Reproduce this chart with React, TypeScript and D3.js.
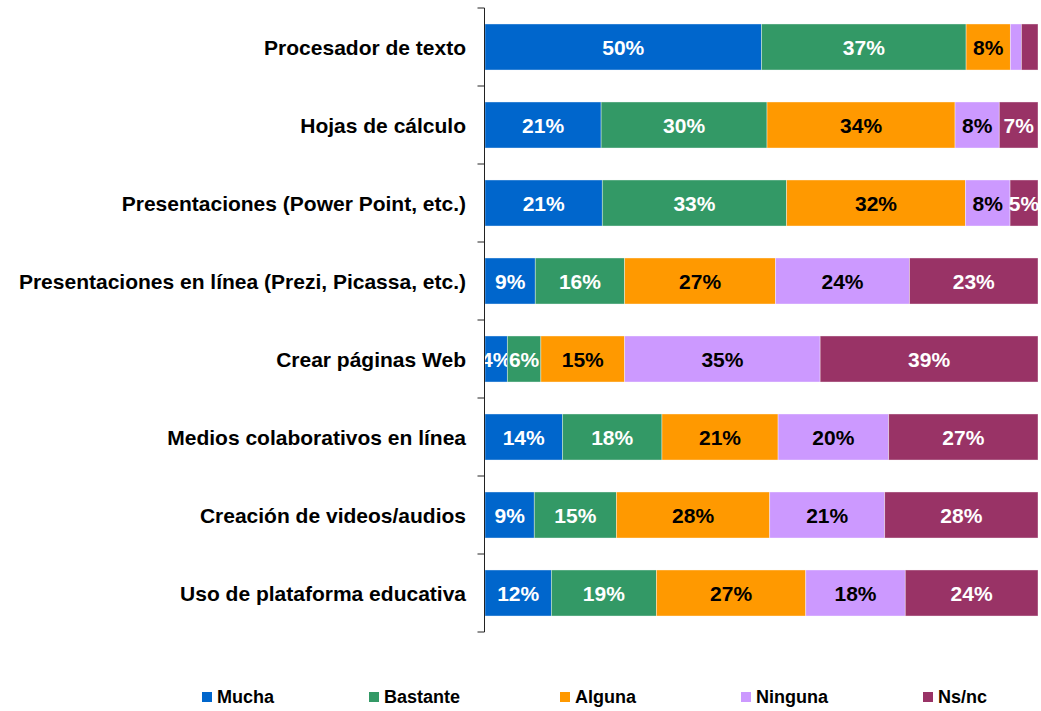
import React from "react";
import * as d3 from "d3";

const categories = [
  "Procesador de texto",
  "Hojas de cálculo",
  "Presentaciones (Power Point, etc.)",
  "Presentaciones en línea (Prezi, Picassa, etc.)",
  "Crear páginas Web",
  "Medios colaborativos en línea",
  "Creación de videos/audios",
  "Uso de plataforma educativa",
];
const seriesNames = ["Mucha", "Bastante", "Alguna", "Ninguna", "Ns/nc"];
const mucha = [50, 21, 21, 9, 4, 14, 9, 12];
const bastante = [37, 30, 33, 16, 6, 18, 15, 19];
const alguna = [8, 34, 32, 27, 15, 21, 28, 27];
const ninguna = [2, 8, 8, 24, 35, 20, 21, 18];
const nsnc = [3, 7, 5, 23, 39, 27, 28, 24];
const colors = ["#0066CC", "#339966", "#FF9900", "#CC99FF", "#993366"];
const labelColors = ["#fff", "#fff", "#000", "#000", "#fff"];

const W = 1041;
const H = 711;
const axisX = 484.5;
const plotRight = 1038;
const plotTop = 8;
const plotBottom = 632;
const font = "Arial, 'Liberation Sans', sans-serif";

export default function App() {
  const seriesValues = [mucha, bastante, alguna, ninguna, nsnc];
  const rows = categories.map((c, i) => {
    const r: any = { cat: c };
    seriesNames.forEach((s, k) => (r[s] = seriesValues[k][i]));
    return r;
  });
  const stack = d3
    .stack<any>()
    .keys(seriesNames)
    .offset(d3.stackOffsetExpand);
  const stacked = stack(rows);

  const x = d3.scaleLinear().domain([0, 1]).range([axisX + 0.5, plotRight]);
  const y = d3
    .scaleBand<string>()
    .domain(categories)
    .range([plotTop, plotBottom])
    .paddingInner(0.41)
    .paddingOuter(0.205);
  const step = (plotBottom - plotTop) / categories.length;
  const ticks = d3.range(categories.length + 1).map((i) => plotTop + i * step);

  const legendX = [202, 369, 560, 741, 923];

  return (
    <svg
      width={W}
      height={H}
      style={{ position: "absolute", left: 0, top: 0, background: "#fff" }}
      fontFamily={font}
    >
      {stacked.map((s, k) => (
        <g key={s.key}>
          {s.map((d, i) => {
            const x0 = x(d[0]);
            const x1 = x(d[1]);
            const yy = y(categories[i])!;
            const v = seriesValues[k][i];
            return (
              <g key={i}>
                <rect
                  x={x0}
                  y={yy}
                  width={x1 - x0}
                  height={y.bandwidth()}
                  fill={colors[k]}
                  stroke="#ffffff"
                  strokeOpacity={0.5}
                  strokeWidth={0.75}
                />
                {v >= 4 && (
                  <text
                    x={(x0 + x1) / 2}
                    y={yy + y.bandwidth() / 2}
                    dy="0.36em"
                    textAnchor="middle"
                    fontSize={21}
                    fontWeight="bold"
                    fill={labelColors[k]}
                  >
                    {v}%
                  </text>
                )}
              </g>
            );
          })}
        </g>
      ))}
      <line x1={axisX} x2={axisX} y1={plotTop} y2={plotBottom} stroke="#222" strokeWidth={1} />
      {ticks.map((t, i) => (
        <line key={i} x1={axisX - 7} x2={axisX} y1={t} y2={t} stroke="#222" strokeWidth={1} />
      ))}
      {categories.map((c) => (
        <text
          key={c}
          x={466}
          y={y(c)! + y.bandwidth() / 2}
          dy="0.36em"
          textAnchor="end"
          fontSize={21}
          fontWeight="bold"
          fill="#000"
        >
          {c}
        </text>
      ))}
      {seriesNames.map((s, k) => (
        <g key={s}>
          <rect x={legendX[k]} y={692} width={10} height={10} fill={colors[k]} />
          <text x={legendX[k] + 15} y={697} dy="0.36em" fontSize={18} fontWeight="bold" fill="#000">
            {s}
          </text>
        </g>
      ))}
    </svg>
  );
}
